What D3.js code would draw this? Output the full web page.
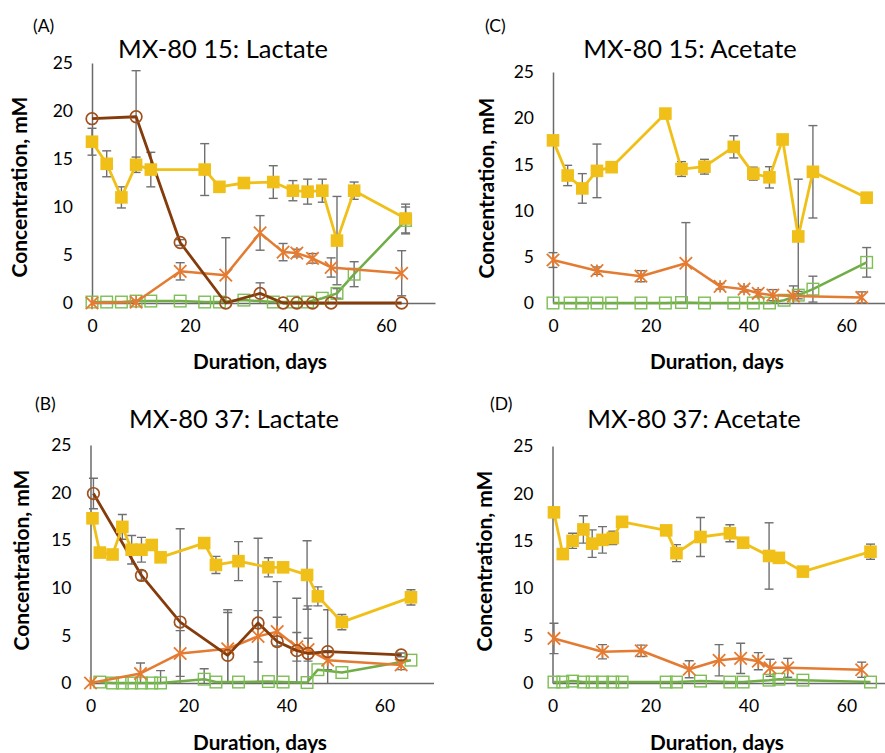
<!DOCTYPE html>
<html><head><meta charset="utf-8">
<script src="https://cdn.jsdelivr.net/npm/d3@7"></script>
<style>
body{margin:0;background:#fff}
svg{display:block}
text{font-family:Lato,'Open Sans',sans-serif;fill:#000}
</style>
</head><body>
<svg id="chart" width="885" height="753"></svg>
<script>
// ---------- data ----------
const xTicks = [0, 20, 40, 60];
const yTicks = [0, 5, 10, 15, 20, 25];

// Panel A: MX-80 15 Lactate
const A_yellowDays = [0, 3, 6, 9, 12, 23, 26, 31, 37, 41, 44, 47, 50, 53.5, 64];
const A_yellowVals = [16.8, 14.5, 11.0, 14.4, 13.9, 13.9, 12.1, 12.5, 12.6, 11.7, 11.6, 11.7, 6.5, 11.7, 8.8];
const A_yellowErr  = [1.4, 1.35, 1.1, 0.8, 1.8, 2.7, 0.4, 0.3, 1.7, 1.05, 1.3, 1.2, 4.6, 0.9, 1.5];
const A_brownDays  = [0, 9, 18, 27.3, 34.3, 39, 41.8, 45, 48.8, 63.2];
const A_brownVals  = [19.2, 19.4, 6.3, 0, 1.0, 0, 0, 0, 0, 0];
const A_brownErr   = [0, 4.8, 0.3, 0, 1.1, 0, 0, 0, 0, 0];
const A_orangeDays = [0, 9, 18, 27.3, 34.3, 39, 41.8, 45, 48.8, 63.2];
const A_orangeVals = [0, 0.1, 3.3, 2.9, 7.3, 5.3, 5.2, 4.65, 3.7, 3.1];
const A_orangeErr  = [0, 0.2, 0.9, 3.9, 1.8, 0.9, 0.4, 0.5, 1.0, 2.35];
const A_greenDays  = [0, 3, 6, 9, 12, 18, 23, 26, 31, 37, 41, 44, 47, 50, 53.5, 64];
const A_greenVals  = [0.1, 0.1, 0.1, 0.2, 0.2, 0.2, 0.1, 0.1, 0.3, 0.1, 0.1, 0.1, 0.5, 1.0, 3.0, 8.6];
const A_greenErr   = [0, 0, 0, 0, 0, 0, 0, 0, 0, 0, 0, 0, 0, 0.5, 1.3, 1.4];

// Panel B: MX-80 37 Lactate
const B_yellowDays = [0.4, 1.9, 4.5, 6.5, 8.4, 10.4, 12.5, 14.3, 23.2, 25.6, 30.2, 36.3, 39.3, 44.2, 46.4, 51.3, 65.4];
const B_yellowVals = [17.3, 13.7, 13.5, 16.4, 14.0, 14.0, 14.5, 13.2, 14.7, 12.4, 12.8, 12.15, 12.15, 11.35, 9.1, 6.4, 9.0];
const B_yellowErr  = [0.5, 0.4, 0.4, 1.3, 1.5, 1.3, 0.3, 0.3, 0.3, 0.9, 2.05, 1.0, 0.3, 3.6, 1.0, 0.8, 0.8];
const B_brownDays  = [0.6, 10.4, 18.3, 28, 34.2, 38.1, 42.1, 44.4, 48.4, 63.4];
const B_brownVals  = [19.9, 11.3, 6.4, 2.9, 6.3, 4.35, 3.4, 3.1, 3.3, 2.95];
const B_brownErr   = [1.6, 0.5, 9.8, 4.8, 8.9, 6.3, 5.5, 5.0, 4.4, 0.2];
const B_orangeDays = [0, 10.2, 18.3, 28, 34.2, 38.1, 42.1, 44.4, 48.4, 63.4];
const B_orangeVals = [0, 1.0, 3.1, 3.6, 4.9, 5.4, 3.8, 3.5, 2.4, 1.9];
const B_orangeErr  = [0, 1.1, 2.4, 3.8, 2.7, 1.5, 1.5, 1.2, 1.0, 0.5];
const B_greenDays  = [1.9, 4.5, 6.5, 8.4, 10.4, 12.5, 14.3, 23.2, 25.6, 30.2, 36.3, 39.3, 44.2, 46.4, 51.3, 65.4];
const B_greenVals  = [0.1, 0, 0, 0, 0, 0, 0, 0.4, 0.1, 0.1, 0.15, 0.1, 0.05, 1.4, 1.1, 2.4];
const B_greenErr   = [0, 0, 0, 0, 0, 0, 1.3, 1.1, 0, 0, 0, 0, 0, 0, 0, 0];

// Panel C: MX-80 15 Acetate
const C_yellowDays = [0, 3, 6, 9, 12, 23, 26.3, 31, 37, 41, 44.3, 47, 50.2, 53.2, 64.2];
const C_yellowVals = [17.6, 13.8, 12.4, 14.3, 14.7, 20.5, 14.5, 14.75, 16.9, 14.0, 13.6, 17.7, 7.2, 14.2, 11.4];
const C_yellowErr  = [0.5, 1.1, 1.6, 2.9, 0.3, 0.3, 0.8, 0.8, 1.2, 0.7, 1.15, 0.3, 6.2, 5.0, 0.3];
const C_orangeDays = [0, 9, 18, 27.2, 34.2, 39.1, 42, 45, 49.2, 63.2];
const C_orangeVals = [4.65, 3.5, 2.9, 4.3, 1.8, 1.5, 1.05, 0.85, 0.75, 0.6];
const C_orangeErr  = [0.8, 0.4, 0.6, 4.4, 0.3, 0.3, 0.4, 0.6, 1.1, 0.6];
const C_greenDays  = [0, 3.5, 6, 9, 12, 18, 23, 26.3, 31, 37, 41, 44.3, 47.3, 50.2, 53.2, 64.2];
const C_greenVals  = [0, 0, 0, 0, 0, 0, 0, 0.05, 0, 0, 0, 0, 0.3, 0.85, 1.5, 4.4];
const C_greenErr   = [0, 0, 0, 0, 0, 0, 0, 0, 0, 0, 0, 0, 0, 0.4, 1.4, 1.6];

// Panel D: MX-80 37 Acetate
const D_yellowDays = [0.3, 2.1, 4.1, 6.3, 8.1, 10.2, 12.3, 14.2, 23.2, 25.3, 30.2, 36.2, 38.9, 44.2, 46.2, 51.1, 64.9];
const D_yellowVals = [18.0, 13.6, 15.0, 16.2, 14.7, 15.1, 15.3, 17.0, 16.1, 13.7, 15.4, 15.8, 14.8, 13.4, 13.2, 11.75, 13.85];
const D_yellowErr  = [0.3, 0.3, 0.8, 1.45, 1.45, 1.4, 0.7, 0.3, 0.5, 0.9, 2.05, 0.9, 0.3, 3.5, 0.3, 0.4, 0.8];
const D_orangeDays = [0.3, 10.2, 18.1, 27.9, 34.0, 38.4, 42.0, 44.4, 48.0, 63.1];
const D_orangeVals = [4.7, 3.3, 3.4, 1.45, 2.4, 2.6, 2.3, 1.6, 1.6, 1.4];
const D_orangeErr  = [1.6, 0.75, 0.6, 0.9, 1.65, 1.6, 0.9, 0.9, 1.0, 0.8];
const D_greenDays  = [0.3, 2.1, 4.1, 6.3, 8.1, 10.2, 12.3, 14.2, 23.2, 25.3, 30.2, 36.2, 38.9, 44.2, 46.2, 51.1, 64.9];
const D_greenVals  = [0.1, 0.1, 0.2, 0.1, 0.1, 0.1, 0.1, 0.1, 0.1, 0.1, 0.2, 0.1, 0.1, 0.3, 0.4, 0.3, 0.1];
const D_greenErr   = [0, 0, 0, 0, 0, 0, 0, 0, 0, 0, 0, 0, 0, 0, 0, 0, 0];

// ---------- styles ----------
const STY = {
  yellow: {line:'#F0C018', width:2.8, marker:'fillSquare', color:'#F0C018'},
  brown:  {line:'#843C0C', width:2.8, marker:'circle', color:'#A0501C'},
  orange: {line:'#E47B32', width:2.5, marker:'star', color:'#E47B32'},
  green:  {line:'#70AD47', width:2.5, marker:'openSquare', color:'#7DBE55'}
};

function mk(days, vals, errs){ return days.map((d,i)=>({x:d, y:vals[i], e:errs[i]})); }

const panels = [
  {key:'A', label:'(A)', title:'MX-80 15: Lactate', xr:[92,435], yr:[303,63],
   labelXY:[33,32], titleXY:[223,58], yLab:[20,187], xLab:[260,362],
   series:[['green',mk(A_greenDays,A_greenVals,A_greenErr)],['orange',mk(A_orangeDays,A_orangeVals,A_orangeErr)],
           ['brown',mk(A_brownDays,A_brownVals,A_brownErr)],['yellow',mk(A_yellowDays,A_yellowVals,A_yellowErr)]]},
  {key:'C', label:'(C)', title:'MX-80 15: Acetate', xr:[553,895], yr:[303,72],
   labelXY:[485,32], titleXY:[690,58], yLab:[487,188], xLab:[717,362],
   series:[['green',mk(C_greenDays,C_greenVals,C_greenErr)],['orange',mk(C_orangeDays,C_orangeVals,C_orangeErr)],
           ['yellow',mk(C_yellowDays,C_yellowVals,C_yellowErr)]]},
  {key:'B', label:'(B)', title:'MX-80 37: Lactate', xr:[90.5,433.5], yr:[683,445],
   labelXY:[35,410], titleXY:[234,428], yLab:[22,560], xLab:[260,743],
   series:[['green',mk(B_greenDays,B_greenVals,B_greenErr)],['orange',mk(B_orangeDays,B_orangeVals,B_orangeErr)],
           ['brown',mk(B_brownDays,B_brownVals,B_brownErr)],['yellow',mk(B_yellowDays,B_yellowVals,B_yellowErr)]]},
  {key:'D', label:'(D)', title:'MX-80 37: Acetate', xr:[552.5,895.5], yr:[683,446],
   labelXY:[490,410], titleXY:[694,428], yLab:[485,561], xLab:[717,743],
   series:[['green',mk(D_greenDays,D_greenVals,D_greenErr)],['orange',mk(D_orangeDays,D_orangeVals,D_orangeErr)],
           ['yellow',mk(D_yellowDays,D_yellowVals,D_yellowErr)]]}
];

const svg = d3.select('#chart');
svg.append('rect').attr('width',885).attr('height',753).attr('fill','#fff');

function fitWidth(sel, target){
  const w = sel.node().getComputedTextLength();
  const fs = parseFloat(sel.attr('font-size'));
  return fs * target / w;
}

// shared font sizes fitted to the reference text widths
const probe = svg.append('text').attr('font-size',20).text('MX-80 15: Lactate');
const titleFS = fitWidth(probe, 210); probe.remove();
const probe2 = svg.append('text').attr('font-size',16).attr('font-weight','bold').text('Concentration, mM');
const yLabFS = fitWidth(probe2, 181); probe2.remove();
const probe3 = svg.append('text').attr('font-size',16).attr('font-weight','bold').text('Duration, days');
const xLabFS = fitWidth(probe3, 134); probe3.remove();

panels.forEach(p => {
  const g = svg.append('g');
  const x = d3.scaleLinear().domain([0,70]).range(p.xr);
  const y = d3.scaleLinear().domain([0,25]).range(p.yr);

  const clipId = 'clip' + p.key;
  svg.append('clipPath').attr('id',clipId).append('rect')
    .attr('x', p.xr[0]-8).attr('y', p.yr[1]).attr('width', p.xr[1]-p.xr[0]+16).attr('height', p.yr[0]-p.yr[1]);

  // axes
  const yAxis = d3.axisLeft(y).tickValues(yTicks).tickSize(0).tickPadding(19);
  const xAxis = d3.axisBottom(x).tickValues(xTicks).tickSize(0).tickPadding(17);
  const ya = g.append('g').attr('transform',`translate(${p.xr[0]},0)`).call(yAxis);
  const xa = g.append('g').attr('transform',`translate(0,${p.yr[0]})`).call(xAxis);
  [ya, xa].forEach(a => {
    a.select('.domain').attr('stroke','#6a6a6a').attr('stroke-width',1.5);
    a.selectAll('text').attr('font-size',17.5).attr('font-family','Lato, sans-serif').attr('fill','#1a1a1a');
  });

  // titles/labels
  g.append('text').attr('x',p.labelXY[0]).attr('y',p.labelXY[1]).attr('font-size',17.5).text(p.label);
  g.append('text').attr('x',p.titleXY[0]).attr('y',p.titleXY[1]).attr('text-anchor','middle')
    .attr('font-size',titleFS).text(p.title);
  g.append('text').attr('transform',`translate(${p.yLab[0]},${p.yLab[1]}) rotate(-90)`)
    .attr('text-anchor','middle').attr('dy','0.35em').attr('font-weight','bold')
    .attr('font-size',yLabFS).text('Concentration, mM');
  g.append('text').attr('x',p.xLab[0]).attr('y',p.xLab[1]).attr('text-anchor','middle').attr('dy','0.35em')
    .attr('font-weight','bold').attr('font-size',xLabFS).text('Duration, days');

  const plot = g.append('g').attr('clip-path',`url(#${clipId})`);

  // error bars
  const eg = plot.append('g');
  p.series.forEach(([name, data]) => {
    data.filter(d => d.e > 0).forEach(d => {
      const cx = x(d.x), t = y(d.y + d.e), b = y(d.y - d.e);
      eg.append('line').attr('x1',cx).attr('x2',cx).attr('y1',t).attr('y2',b)
        .attr('stroke','#707070').attr('stroke-width',1.4);
      [t,b].forEach(yy => eg.append('line').attr('x1',cx-4.5).attr('x2',cx+4.5).attr('y1',yy).attr('y2',yy)
        .attr('stroke','#707070').attr('stroke-width',1.4));
    });
  });

  // series
  p.series.forEach(([name, data]) => {
    const s = STY[name];
    const line = d3.line().x(d => x(d.x)).y(d => y(d.y));
    g.append('path').datum(data).attr('d',line).attr('fill','none')
      .attr('stroke',s.line).attr('stroke-width',s.width).attr('stroke-linejoin','round');
    const mg = g.append('g');
    data.forEach(d => {
      const cx = x(d.x), cy = y(d.y);
      if (s.marker === 'fillSquare') {
        mg.append('rect').attr('x',cx-6.3).attr('y',cy-6.3).attr('width',12.6).attr('height',12.6)
          .attr('fill',s.color);
      } else if (s.marker === 'openSquare') {
        mg.append('rect').attr('x',cx-5.8).attr('y',cy-5.8).attr('width',11.6).attr('height',11.6)
          .attr('fill','none').attr('stroke',s.color).attr('stroke-width',1.4);
      } else if (s.marker === 'circle') {
        mg.append('circle').attr('cx',cx).attr('cy',cy).attr('r',5.8)
          .attr('fill','none').attr('stroke',s.color).attr('stroke-width',1.7);
      } else if (s.marker === 'star') {
        const r = 6.2;
        mg.append('path').attr('d',`M${cx-r},${cy-r}L${cx+r},${cy+r}M${cx-r},${cy+r}L${cx+r},${cy-r}M${cx},${cy-r}L${cx},${cy+r}`)
          .attr('stroke',s.color).attr('stroke-width',1.8).attr('fill','none');
      }
    });
  });
});
</script>
</body></html>
